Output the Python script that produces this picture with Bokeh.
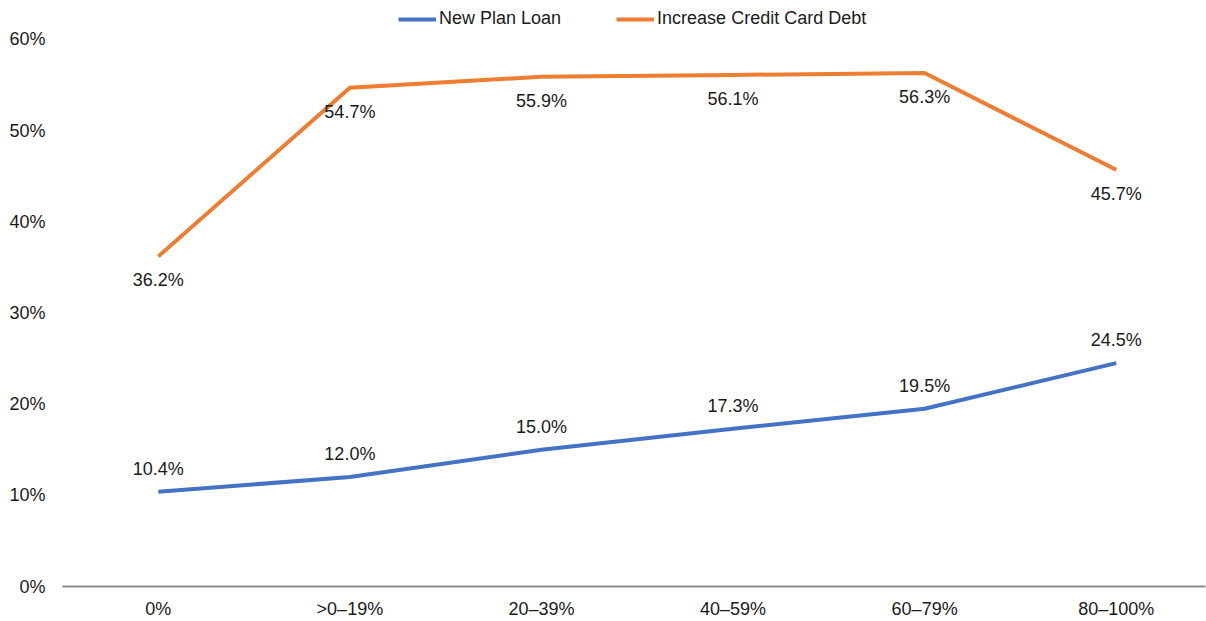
from bokeh.plotting import figure
from bokeh.models import (ColumnDataSource, Range1d, FixedTicker, PrintfTickFormatter,
                          Legend, LegendItem, LabelSet)
from bokeh.core.properties import value
from bokeh.embed import file_html
from bokeh.resources import INLINE

categories = ["0%", ">0–19%", "20–39%", "40–59%", "60–79%", "80–100%"]
new_plan_loan = [10.4, 12.0, 15.0, 17.3, 19.5, 24.5]
increase_cc_debt = [36.2, 54.7, 55.9, 56.1, 56.3, 45.7]
y_ticks = [0, 10, 20, 30, 40, 50, 60]

FONT = "Liberation Sans"
FS = "18px"
BLUE = "#4472C4"
ORANGE = "#ED7D31"
TXT = "#1a1a1a"

xs = list(range(len(categories)))
src_blue = ColumnDataSource(dict(x=xs, y=new_plan_loan,
                                 lab=[f"{v:.1f}%" for v in new_plan_loan]))
src_orange = ColumnDataSource(dict(x=xs, y=increase_cc_debt,
                                   lab=[f"{v:.1f}%" for v in increase_cc_debt]))

# frame extends to the top edge so the legend sits inside it; 60% lands 39px from top
p = figure(width=1206, height=621, output_backend="svg", toolbar_location=None,
           x_range=Range1d(-0.5, 5.466), y_range=Range1d(0, 64.26),
           min_border_left=62, min_border_right=1, min_border_top=0, min_border_bottom=33)
p.outline_line_color = None
p.xgrid.visible = False
p.ygrid.visible = False

r1 = p.line("x", "y", source=src_blue, line_color=BLUE, line_width=4, line_join="miter")
r2 = p.line("x", "y", source=src_orange, line_color=ORANGE, line_width=4, line_join="miter")

for src, off in ((src_blue, 23), (src_orange, -24)):
    p.add_layout(LabelSet(x="x", y="y", text="lab", source=src, y_offset=off,
                          text_align="center", text_baseline="middle",
                          text_font=value(FONT), text_font_size=value(FS),
                          text_color=value(TXT)))

# x axis
p.xaxis.ticker = FixedTicker(ticks=xs)
p.xaxis.major_label_overrides = {i: c for i, c in enumerate(categories)}
p.xaxis.axis_line_color = "#8c8c8c"
p.xaxis.axis_line_width = 2
p.xaxis.major_tick_line_color = None
p.xaxis.minor_tick_line_color = None
p.xaxis.major_tick_out = 0
p.xaxis.major_tick_in = 0
p.xaxis.major_label_standoff = 12
p.xaxis.major_label_text_font = FONT
p.xaxis.major_label_text_font_size = FS
p.xaxis.major_label_text_color = TXT

# y axis
p.yaxis.ticker = FixedTicker(ticks=y_ticks)
p.yaxis.formatter = PrintfTickFormatter(format="%d%%")
p.yaxis.axis_line_color = None
p.yaxis.major_tick_line_color = None
p.yaxis.minor_tick_line_color = None
p.yaxis.major_tick_out = 0
p.yaxis.major_tick_in = 0
p.yaxis.major_label_standoff = 17
p.yaxis.major_label_text_font = FONT
p.yaxis.major_label_text_font_size = FS
p.yaxis.major_label_text_color = TXT

legend = Legend(items=[LegendItem(label="New Plan Loan", renderers=[r1]),
                       LegendItem(label="Increase Credit Card Debt", renderers=[r2])],
                orientation="horizontal", location=(336, 557),
                padding=0, margin=0, spacing=55, glyph_width=38, glyph_height=20,
                label_height=20, label_standoff=3,
                label_text_font=FONT, label_text_font_size=FS, label_text_color=TXT,
                border_line_color=None, background_fill_alpha=0)
p.add_layout(legend, "center")

open("out.html", "w").write(file_html(p, INLINE))
